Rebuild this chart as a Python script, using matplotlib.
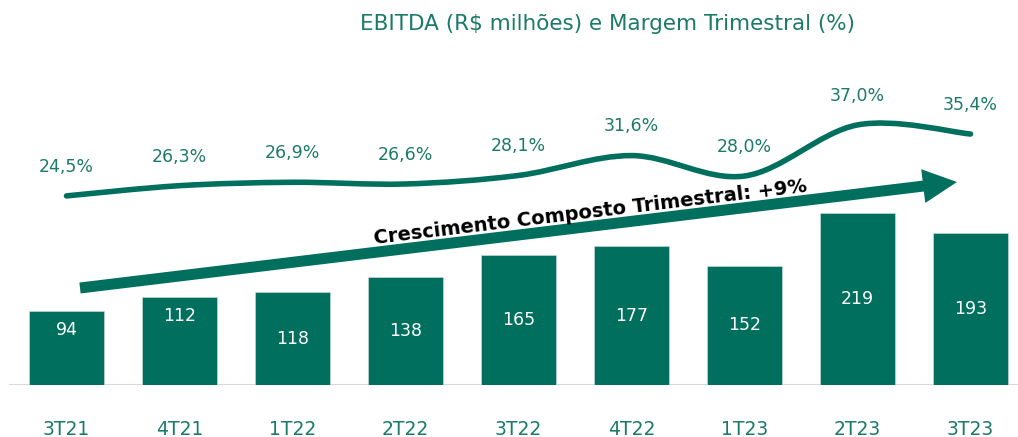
import numpy as np
import matplotlib.pyplot as plt
from matplotlib.path import Path
from matplotlib.patches import PathPatch, FancyArrow

# ---------------------------------------------------------------------
# DATA
# ---------------------------------------------------------------------
quarters = ["3T21", "4T21", "1T22", "2T22", "3T22", "4T22", "1T23", "2T23", "3T23"]
ebitda = [94, 112, 118, 138, 165, 177, 152, 219, 193]
margin = [24.5, 26.3, 26.9, 26.6, 28.1, 31.6, 28.0, 37.0, 35.4]
margin_labels = ["24,5%", "26,3%", "26,9%", "26,6%", "28,1%", "31,6%", "28,0%", "37,0%", "35,4%"]

title = "EBITDA (R$ milhões) e Margem Trimestral (%)"
cagr_text = "Crescimento Composto Trimestral: +9%"

GREEN = "#006F5E"
TEAL = "#1B7A69"
FONT = "DejaVu Sans"

# ---------------------------------------------------------------------
# FIGURE
# ---------------------------------------------------------------------
W, H = 1018, 437
fig = plt.figure(figsize=(W / 100, H / 100), dpi=100)
base_px = 385
ax = fig.add_axes([0, (H - base_px) / H, 1, base_px / H])

x = np.arange(len(quarters))
px_per_bar = 113
x0 = -66.5 / px_per_bar
ax.set_xlim(x0, x0 + W / px_per_bar)
ax.set_ylim(0, base_px / 0.785)

ax.bar(x, ebitda, width=75 / px_per_bar, color=GREEN, edgecolor="#cfe3dd", linewidth=0.4, zorder=2)

# value labels inside bars
for i, v in enumerate(ebitda):
    ypos = v / 2 if i > 1 else v - 24
    ax.text(i, ypos, str(v), color="white", ha="center", va="center",
            fontsize=12.5, family=FONT, zorder=4)

# baseline and category labels
ax.axhline(0, xmin=10 / W, xmax=1, color="#d9d9d9", linewidth=1.5, zorder=1)
for i, q in enumerate(quarters):
    ax.text(i, (base_px - 435) / 0.785, q, color=TEAL, ha="center", va="baseline",
            fontsize=13.5, family=FONT, clip_on=False)

for s in ax.spines.values():
    s.set_visible(False)
ax.set_xticks([])
ax.set_yticks([])

# ---------------------------------------------------------------------
# Margin line (smoothed) on a twin axis
# ---------------------------------------------------------------------
ax2 = ax.twinx()
ax2.set_ylim(-8.8, 59.0)
ax2.set_axis_off()

pts = np.column_stack([x, margin])
verts = [tuple(pts[0])]
codes = [Path.MOVETO]
k = 1 / 6
for i in range(len(pts) - 1):
    p0 = pts[max(i - 1, 0)]
    p1 = pts[i]
    p2 = pts[i + 1]
    p3 = pts[min(i + 2, len(pts) - 1)]
    c1 = p1 + (p2 - p0) * k
    c2 = p2 - (p3 - p1) * k
    verts += [tuple(c1), tuple(c2), tuple(p2)]
    codes += [Path.CURVE4] * 3
ax2.add_patch(PathPatch(Path(verts, codes), facecolor="none", edgecolor=GREEN,
                        linewidth=4, capstyle="round", zorder=3))

for i, (m, lab) in enumerate(zip(margin, margin_labels)):
    ax2.annotate(lab, (i, m), xytext=(0, 21), textcoords="offset points",
                 ha="center", va="center", color=TEAL, fontsize=12.5, family=FONT)

# ---------------------------------------------------------------------
# Growth arrow + text (drawn in pixel space)
# ---------------------------------------------------------------------
ax_arrow = fig.add_axes([0, 0, 1, 1], facecolor="none")
ax_arrow.set_xlim(0, W)
ax_arrow.set_ylim(H, 0)
ax_arrow.set_axis_off()
sx, sy, ex, ey = 80, 288, 957, 182
ax_arrow.add_patch(FancyArrow(sx, sy, ex - sx, ey - sy, width=11, head_width=34,
                              head_length=34, length_includes_head=True,
                              color=GREEN, linewidth=0))
ang = np.degrees(np.arctan2(sy - ey, ex - sx))
ax_arrow.text(590, 212, cagr_text, rotation=ang, rotation_mode="anchor",
              ha="center", va="center", fontsize=14, fontweight="bold",
              family="DejaVu Sans", color="black")

fig.text(607 / W, 1 - 24 / H, title, ha="center", va="center", color=TEAL,
         fontsize=15.5, family=FONT)

fig.savefig("out.png", dpi=100)
